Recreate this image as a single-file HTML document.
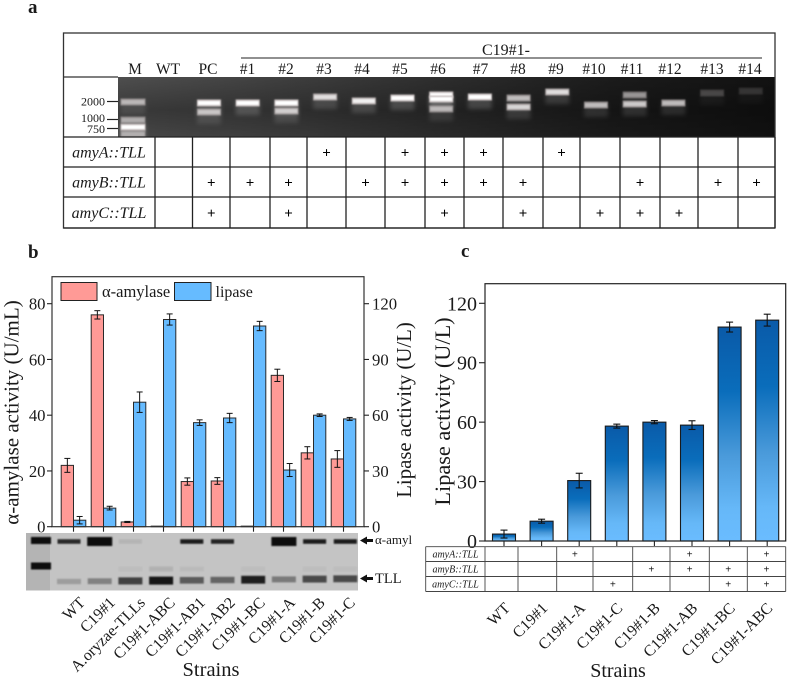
<!DOCTYPE html>
<html lang="en">
<head>
<meta charset="utf-8">
<title>TLL integration and lipase activity figure</title>
<style>
html,body{margin:0;padding:0;background:#fff;width:790px;height:680px;overflow:hidden}
svg{display:block}
text{font-family:"Liberation Serif",serif;fill:#1a1a1a}
</style>
</head>
<body>
<svg id="fig" xmlns="http://www.w3.org/2000/svg" width="790" height="680" viewBox="0 0 790 680">
  <defs>
    <filter id="soft" x="-30%" y="-100%" width="160%" height="300%"><feGaussianBlur stdDeviation="0.9"/></filter>
    <filter id="softer" x="-30%" y="-150%" width="160%" height="400%"><feGaussianBlur stdDeviation="2.2"/></filter>
    <linearGradient id="gelBg" x1="0" x2="1" y1="0" y2="0">
      <stop offset="0" stop-color="#505050"/><stop offset="0.2" stop-color="#444"/><stop offset="0.5" stop-color="#2e2e2e"/><stop offset="0.75" stop-color="#1c1c1c"/><stop offset="1" stop-color="#121212"/>
    </linearGradient>
    <linearGradient id="gelShade" x1="0" x2="0" y1="0" y2="1">
      <stop offset="0" stop-color="#000" stop-opacity="0.02"/><stop offset="0.55" stop-color="#000" stop-opacity="0.28"/><stop offset="1" stop-color="#000" stop-opacity="0.1"/>
    </linearGradient>
    <linearGradient id="barGrad" x1="0" x2="0" y1="0" y2="1">
      <stop offset="0" stop-color="#0a5aa8"/><stop offset="0.3" stop-color="#0a6dbb"/><stop offset="0.6" stop-color="#4a9ada"/><stop offset="0.85" stop-color="#66b8f8"/><stop offset="1" stop-color="#6abcff"/>
    </linearGradient>
  </defs>

  <text x="28" y="13" font-size="19" font-weight="bold">a</text>
  <text x="28" y="258" font-size="19" font-weight="bold">b</text>
  <text x="461" y="257" font-size="19" font-weight="bold">c</text>

  <g id="panelA">
    <rect x="118" y="77" width="657" height="60" fill="url(#gelBg)"/>
    <rect x="118" y="77" width="657" height="60" fill="url(#gelShade)"/>
    <g id="gelBands"></g>
    <rect x="63.5" y="33" width="711.5" height="195" fill="none" stroke="#333" stroke-width="1.3"/>
    <line x1="63.5" x2="118" y1="77" y2="77" stroke="#333" stroke-width="1.3"/>
    <line x1="241" x2="762" y1="58" y2="58" stroke="#222" stroke-width="1.1"/>
    <text x="506" y="55" font-size="16" text-anchor="middle">C19#1-</text>
    <line x1="107" x2="118" y1="101.5" y2="101.5" stroke="#222" stroke-width="1.2"/>
    <line x1="107" x2="118" y1="119.5" y2="119.5" stroke="#222" stroke-width="1.2"/>
    <line x1="107" x2="118" y1="128.5" y2="128.5" stroke="#222" stroke-width="1.2"/>
    <text x="105" y="105.500" font-size="12" text-anchor="end">2000</text>
    <text x="105" y="122" font-size="12" text-anchor="end">1000</text>
    <text x="105" y="133" font-size="12" text-anchor="end">750</text>
    <g id="gelTable"></g>
  </g>

  <g id="panelB">
    <g id="barsB"></g>
    <rect x="52" y="276.7" width="312" height="250" fill="none" stroke="#333" stroke-width="1.2"/>
    <g id="axesB"></g>
    <g>
      <rect x="61" y="282.5" width="36" height="18" fill="#ff9a96" stroke="#222" stroke-width="1"/>
      <text x="102" y="297" font-size="16.500">α-amylase</text>
      <rect x="174.500" y="282.500" width="36.500" height="18" fill="#66bbff" stroke="#222" stroke-width="1"/>
      <text x="215.500" y="297" font-size="16">lipase</text>
    </g>
    <text transform="translate(18.500,412.500) rotate(-90)" font-size="21" text-anchor="middle">α-amylase activity (U/mL)</text>
    <text transform="translate(411,410) rotate(-90)" font-size="20.800" text-anchor="middle">Lipase activity (U/L)</text>
    <rect x="26" y="533" width="332" height="57.500" fill="#c4c4c4"/>
    <rect x="26" y="533" width="24" height="57.500" fill="#b4b4b4"/>
    <g id="blotBands"></g>
    <polygon points="360,540.500 367,536.500 367,539 373,539 373,542 367,542 367,544.500" fill="#111"/>
    <text x="375" y="544" font-size="13">α-amyl</text>
    <polygon points="360,578.500 367,574.500 367,577 373,577 373,580 367,580 367,582.500" fill="#111"/>
    <text x="375" y="583" font-size="14.500">TLL</text>
    <g id="labelsB"></g>
    <text x="211" y="676" font-size="20.500" text-anchor="middle">Strains</text>
  </g>

  <g id="panelC">
    <g id="barsC"></g>
    <rect x="485" y="283.700" width="300.700" height="257.300" fill="none" stroke="#222" stroke-width="1.2"/>
    <g id="axesC"></g>
    <text transform="translate(450,411.500) rotate(-90)" font-size="22.300" text-anchor="middle">Lipase activity (U/L)</text>
    <g id="tableC"></g>
    <g id="labelsC"></g>
    <text x="618" y="677" font-size="20" text-anchor="middle">Strains</text>
  </g>
</svg>

<script>
// ---------- Panel a data ----------
const gelLanes = ['PC','#1','#2','#3','#4','#5','#6','#7','#8','#9','#10','#11','#12','#13','#14'];
const gelHeaders = ['M','WT','PC','#1','#2','#3','#4','#5','#6','#7','#8','#9','#10','#11','#12','#13','#14'];
const gelBandSizes = [[1925,1360],[1925],[1925,1415],[2425],[2080],[2330],[2620,2240,1530],[2425],[2330,1650],[2940],[1780],[2620,1850],[1925],[2830],[3050]];
const gelBandBrightness = [[1,.65],[1],[1,.7],[.8],[.9],[1],[1,1,.6],[1],[.65,.75],[.8],[.65],[.5,.7],[.65],[.22],[.15]];
const markerSizes = [2000,1000,760,580];
const markerBrightness = [.6,.55,1,.5];
const amyARows = ['#3','#5','#6','#7','#9'];
const amyBRows = ['PC','#1','#2','#4','#5','#6','#7','#8','#11','#13','#14'];
const amyCRows = ['PC','#2','#6','#8','#10','#11','#12'];
const gelRowNames = ['amyA::TLL','amyB::TLL','amyC::TLL'];

// ---------- Panel b data ----------
const strainsB = ['WT','C19#1','A.oryzae-TLLs','C19#1-ABC','C19#1-AB1','C19#1-AB2','C19#1-BC','C19#1-A','C19#1-B','C19#1-C'];
const amylaseValues = [22,76,1.7,0.2,16.2,16.4,0.2,54.3,26.5,24.3];
const amylaseErrors = [2.5,1.5,0.2,0,1.3,1.2,0,2.2,2.2,3];
const lipaseValuesB = [3.5,10,67,111.5,56,58.5,108,30.5,60,58];
const lipaseErrorsB = [2,1,5.5,3,1.5,2.5,2.5,3.5,0.7,0.8];
const leftTicksB = [0,20,40,60,80];
const rightTicksB = [0,30,60,90,120];
const blotAmylase = [.85,1,.08,0,.92,.88,0,1,.92,.92];
const blotTll = [.22,.38,.75,1,.6,.55,.95,.42,.7,.7];
const blotUpper = [0,0,.06,.16,.08,0,.06,0,.05,.05];

// ---------- Panel c data ----------
const strainsC = ['WT','C19#1','C19#1-A','C19#1-C','C19#1-B','C19#1-AB','C19#1-BC','C19#1-ABC'];
const lipaseValuesC = [3.5,10,30.5,58,60,58.5,108,111.5];
const lipaseErrorsC = [2,1,3.7,1,0.8,2.2,2.5,3];
const ticksC = [0,30,60,90,120];
const tableCA = ['C19#1-A','C19#1-AB','C19#1-ABC'];
const tableCB = ['C19#1-B','C19#1-AB','C19#1-BC','C19#1-ABC'];
const tableCC = ['C19#1-C','C19#1-BC','C19#1-ABC'];

const NS = 'http://www.w3.org/2000/svg';
function mk(tag, parent, props) {
  const el = document.createElementNS(NS, tag);
  for (const k in props) el.setAttribute(k, props[k]);
  parent.appendChild(el);
  return el;
}
const $ = id => document.getElementById(id);

// ---------- Panel a ----------
(function () {
  const bpY = s => 102 + 18 * Math.log2(2000 / s);
  const laneX = i => 209 + 38.7 * i;
  const bandG = $('gelBands');
  function band(cx, bp, b, w, name) {
    const y = bpY(bp);
    const glow = mk('rect', bandG, {x: cx - w / 2, y: y - 2, width: w, height: 14, fill: '#fff', opacity: .16 * b, filter: 'url(#softer)'});
    
    
    const r = mk('rect', bandG, {x: cx - w / 2, y: y - 3.500, width: w, height: 7, fill: '#c4bcbc', opacity: b, filter: 'url(#soft)'});
    
    
    const core = mk('rect', bandG, {x: cx - w / 2 + 1, y: y - 2, width: w - 2, height: 4, fill: '#fff', opacity: b * b, filter: 'url(#soft)'});
    
    
  }
  markerSizes.forEach((s, i) => band(133, s, markerBrightness[i], 25, 'marker-band'));
  gelLanes.forEach((lane, i) => {
    gelBandSizes[i].forEach((s, j) => band(laneX(i), s, gelBandBrightness[i][j], 24, 'gel-band'));
  });

  const tb = $('gelTable');
  const headerX = [135,168,208,247.500,286,324,362,400,438,480.500,518,556,594,632,670,712,750];
  gelHeaders.forEach((h, i) => {
    const t = mk('text', tb, {x: headerX[i], y: 74, 'font-size': 15.500, 'text-anchor': 'middle'});
    t.textContent = h;
    
    
  });
  const rowY = [137,167,197,228];
  const colX = [155,192.500,230,270,307,346,385,425,464,503,543,580,620,660,698,738,775];
  rowY.forEach((y, i) => {
    const l = mk('line', tb, {x1: 63.500, x2: 775, y1: y, y2: y, stroke: '#222', 'stroke-width': 1.3});
    
    
  });
  colX.forEach(x => {
    const l = mk('line', tb, {x1: x, x2: x, y1: 137, y2: 228, stroke: '#222', 'stroke-width': 1.3});
    
    
  });
  const rows = [amyARows, amyBRows, amyCRows];
  gelRowNames.forEach((name, r) => {
    const cy = (rowY[r] + rowY[r + 1]) / 2;
    const t = mk('text', tb, {x: 109, y: cy + 5.500, 'font-size': 16, 'font-style': 'italic', 'text-anchor': 'middle'});
    t.textContent = name;
    
    
    gelLanes.forEach((lane, i) => {
      if (!rows[r].includes(lane)) return;
      const cx = (colX[i + 1] + colX[i + 2]) / 2;
      const p = mk('text', tb, {x: cx, y: cy + 5.500, 'font-size': 15, 'font-weight': 'bold', 'text-anchor': 'middle', style: 'fill:#000'});
      p.textContent = '+';
      
      
    });
  });
})();

// ---------- Panel b ----------
(function () {
  const baseY = 526.700;
  const yLeft = v => baseY - v * (223 / 80);
  const yRight = v => baseY - v * (223 / 120);
  const xTick = i => 73.500 + 30 * i;
  const bw = 12.300;
  const g = $('barsB');

  function errBar(x, top, low, high, parent) {
    const s = mk('line', parent, {x1: x, x2: x, y1: low, y2: high, stroke: '#111', 'stroke-width': 1});
    
    
    [low, high].forEach(yy => {
      const c = mk('line', parent, {x1: x - 3, x2: x + 3, y1: yy, y2: yy, stroke: '#111', 'stroke-width': 1});
      
      
    });
  }

  strainsB.forEach((s, i) => {
    const ya = yLeft(amylaseValues[i]);
    const a = mk('rect', g, {x: xTick(i) - bw, y: ya, width: bw, height: baseY - ya, fill: '#ff9a96', stroke: '#2a2a2a', 'stroke-width': 1});
    
    
    if (amylaseErrors[i] > 0) errBar(xTick(i) - bw / 2, ya, yLeft(amylaseValues[i] - amylaseErrors[i]), yLeft(amylaseValues[i] + amylaseErrors[i]), g);
    const yb = yRight(lipaseValuesB[i]);
    const b = mk('rect', g, {x: xTick(i), y: yb, width: bw, height: baseY - yb, fill: '#66bbff', stroke: '#2a2a2a', 'stroke-width': 1});
    
    
    errBar(xTick(i) + bw / 2, yb, yRight(lipaseValuesB[i] - lipaseErrorsB[i]), yRight(lipaseValuesB[i] + lipaseErrorsB[i]), g);
  });

  const ax = $('axesB');
  leftTicksB.forEach(v => {
    const y = yLeft(v);
    const l = mk('line', ax, {x1: 47, x2: 52, y1: y, y2: y, stroke: '#222', 'stroke-width': 1.1});
    
    
    const t = mk('text', ax, {x: 45.500, y: y + 6, 'font-size': 16.700, 'text-anchor': 'end'});
    t.textContent = v;
    
    
  });
  rightTicksB.forEach(v => {
    const y = yRight(v);
    const l = mk('line', ax, {x1: 364, x2: 369, y1: y, y2: y, stroke: '#222', 'stroke-width': 1.1});
    
    
    const t = mk('text', ax, {x: 372, y: y + 6, 'font-size': 16.700});
    t.textContent = v;
    
    
  });
  strainsB.forEach((s, i) => {
    const l = mk('line', ax, {x1: xTick(i), x2: xTick(i), y1: baseY, y2: baseY + 5, stroke: '#222', 'stroke-width': 1.1});
    
    
  });

  const bl = $('blotBands');
  const markerRow = [537, 562.500];
  markerRow.forEach(y => {
    const r = mk('rect', bl, {x: 31, y: y, width: 20, height: 7, fill: '#0a0a0a', filter: 'url(#soft)'});
    
    
  });
  const laneX = i => 69 + 30.700 * i;
  strainsB.forEach((s, i) => {
    const a = blotAmylase[i], t = blotTll[i], u = blotUpper[i];
    if (a > 0) {
      const h = a === 1 ? 9 : 4.500;
      const w = a === 1 ? 25 : 23;
      const r = mk('rect', bl, {x: laneX(i) - w / 2, y: 541.500 - h / 2, width: w, height: h, fill: '#0a0a0a', opacity: a, filter: 'url(#soft)'});
      
      
    }
    const h = 4.500 + 3.500 * t;
    const r = mk('rect', bl, {x: laneX(i) - 12, y: 581.500 - i * 0.300 - h / 2, width: 24, height: h, fill: '#141414', opacity: t, filter: 'url(#soft)'});
    
    
    if (u > 0) {
      const up = mk('rect', bl, {x: laneX(i) - 12, y: 566.500, width: 24, height: 5, fill: '#555', opacity: u, filter: 'url(#soft)'});
      
      
    }
  });

  const lb = $('labelsB');
  strainsB.forEach((s, i) => {
    const x = 86 + 30 * i;
    const t = mk('text', lb, {transform: 'translate(' + x + ',603.500) rotate(-45)', 'font-size': 15.800, 'text-anchor': 'end'});
    t.textContent = s;
    
    
  });
})();

// ---------- Panel c ----------
(function () {
  const baseY = 541;
  const yVal = v => baseY - v * (237.700 / 120);
  const xTick = i => 504 + 37.600 * i;
  const bw = 23;
  const g = $('barsC');
  strainsC.forEach((s, i) => {
    const y = yVal(lipaseValuesC[i]);
    const r = mk('rect', g, {x: xTick(i) - bw / 2, y: y, width: bw, height: baseY - y, fill: 'url(#barGrad)', stroke: '#1a1a1a', 'stroke-width': 1.1});
    
    
    const lo = yVal(lipaseValuesC[i] - lipaseErrorsC[i]);
    const hi = yVal(lipaseValuesC[i] + lipaseErrorsC[i]);
    const st = mk('line', g, {x1: xTick(i), x2: xTick(i), y1: lo, y2: hi, stroke: '#111', 'stroke-width': 1.1});
    
    
    [lo, hi].forEach(yy => {
      const c = mk('line', g, {x1: xTick(i) - 3.500, x2: xTick(i) + 3.500, y1: yy, y2: yy, stroke: '#111', 'stroke-width': 1.1});
      
      
    });
  });

  const ax = $('axesC');
  ticksC.forEach(v => {
    const y = yVal(v);
    const l = mk('line', ax, {x1: 479, x2: 485, y1: y, y2: y, stroke: '#222', 'stroke-width': 1.1});
    
    
    const t = mk('text', ax, {x: 477, y: y + 7, 'font-size': 20, 'text-anchor': 'end'});
    t.textContent = v;
    
    
  });
  strainsC.forEach((s, i) => {
    const l = mk('line', ax, {x1: xTick(i), x2: xTick(i), y1: baseY, y2: baseY + 5, stroke: '#222', 'stroke-width': 1.1});
    
    
  });

  const tb = $('tableC');
  const rowY = [546.700,561.500,576.500,591.500];
  const colX = [425.700,485,518,556.700,593,632.700,670,709.300,747.300,785.700];
  rowY.forEach(y => {
    const l = mk('line', tb, {x1: 425.700, x2: 785.700, y1: y, y2: y, stroke: '#444', 'stroke-width': 0.9});
    
    
  });
  colX.forEach(x => {
    const l = mk('line', tb, {x1: x, x2: x, y1: 546.700, y2: 591.500, stroke: '#444', 'stroke-width': 0.9});
    
    
  });
  const rows = [tableCA, tableCB, tableCC];
  gelRowNames.forEach((name, r) => {
    const cy = (rowY[r] + rowY[r + 1]) / 2;
    const t = mk('text', tb, {x: 455.500, y: cy + 3.500, 'font-size': 10, 'font-style': 'italic', 'text-anchor': 'middle'});
    t.textContent = name;
    
    
    strainsC.forEach((s, i) => {
      if (!rows[r].includes(s)) return;
      const p = mk('text', tb, {x: (colX[i + 1] + colX[i + 2]) / 2, y: cy + 3.500, 'font-size': 10.500, 'font-weight': 'bold', 'text-anchor': 'middle'});
      p.textContent = '+';
      
      
    });
  });

  const lb = $('labelsC');
  strainsC.forEach((s, i) => {
    const x = 511 + 37.500 * i;
    const t = mk('text', lb, {transform: 'translate(' + x + ',609) rotate(-45)', 'font-size': 15.800, 'text-anchor': 'end'});
    t.textContent = s;
    
    
  });
})();
</script>
</body>
</html>
